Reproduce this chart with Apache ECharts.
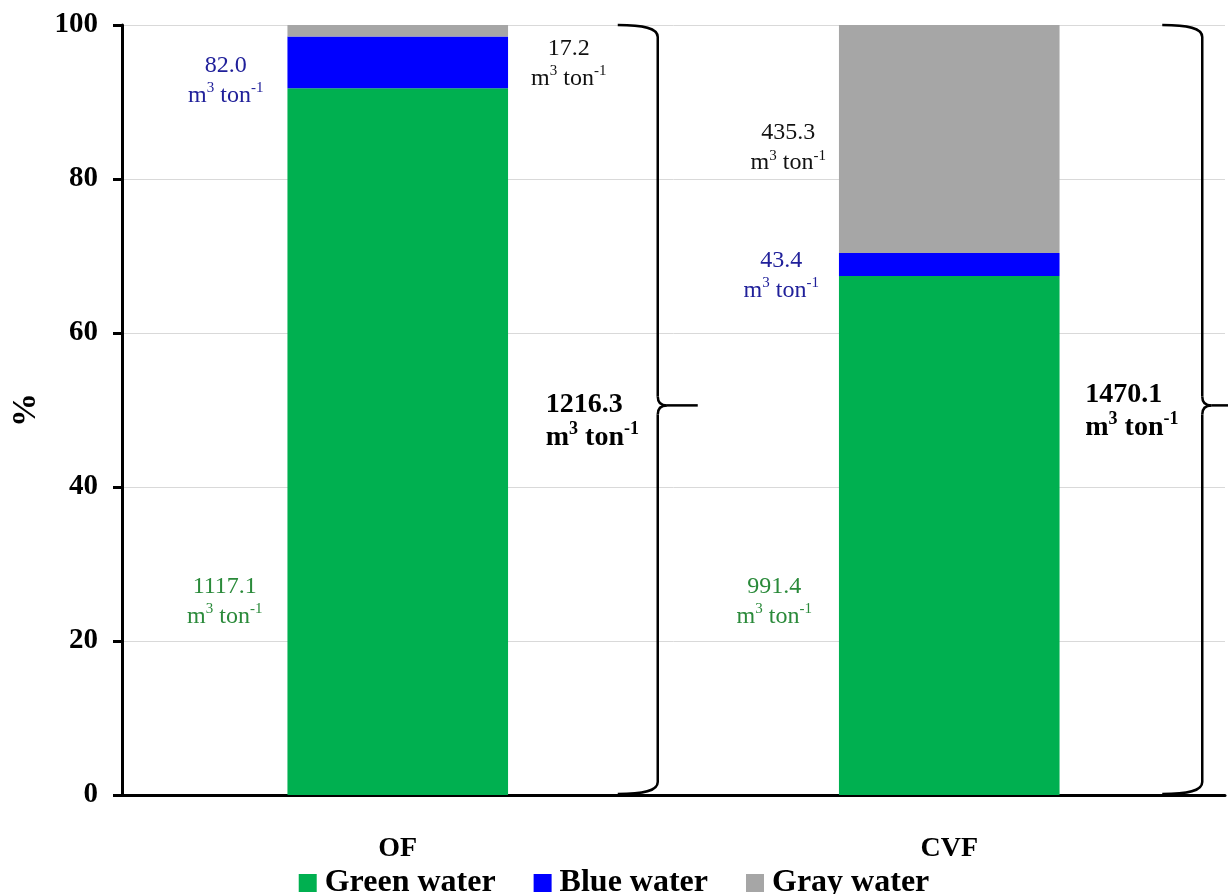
<!DOCTYPE html>
<html>
<head>
<meta charset="utf-8">
<script src="https://cdn.jsdelivr.net/npm/echarts@6/dist/echarts.min.js"></script>
<style>
html,body{margin:0;padding:0;background:#fff;}
#chart{width:1228px;height:894px;}
</style>
</head>
<body>
<div id="chart"></div>
<script>
// ---- data ----
const categories = ['OF', 'CVF'];
const greenPct = [91.8, 67.4];
const bluePct = [6.7, 3.0];
const grayPct = [1.5, 29.6];
const greenVol = ['1117.1', '991.4'];
const blueVol = ['82.0', '43.4'];
const grayVol = ['17.2', '435.3'];
const totalVol = ['1216.3', '1470.1'];
const yTicks = [0, 20, 40, 60, 80, 100];
const seriesNames = ['Green water', 'Blue water', 'Gray water'];

const FONT = '"Liberation Serif", "Times New Roman", serif';
const C_GREEN = '#00B050', C_BLUE = '#0000FF', C_GRAY = '#A6A6A6';
const T_GREEN = '#2A8A3A', T_BLUE = '#20209A', T_BLACK = '#111111';

const chart = echarts.init(document.getElementById('chart'));

const option = {
  animation: false,
  backgroundColor: '#ffffff',
  grid: { left: 122, right: 3, top: 25, bottom: 99, containLabel: false, outerBoundsMode: 'none' },
  legend: {
    left: 'center', top: 862,
    icon: 'rect', itemWidth: 18, itemHeight: 18, itemGap: 38,
    data: seriesNames,
    textStyle: { fontFamily: FONT, fontSize: 32, fontWeight: 'bold', color: '#000', padding: [0, 0, 0, 3] }
  },
  xAxis: {
    type: 'category', data: categories,
    axisLine: { lineStyle: { color: '#000', width: 3 } },
    axisTick: { show: false },
    axisLabel: { margin: 40, fontFamily: FONT, fontSize: 28, fontWeight: 'bold', color: '#000' }
  },
  yAxis: {
    type: 'value', min: 0, max: 100, interval: 20,
    name: '%', nameLocation: 'middle', nameGap: 76, nameRotate: 90,
    nameTextStyle: { fontFamily: FONT, fontSize: 34, fontWeight: 'bold', color: '#000' },
    axisLine: { show: true, lineStyle: { color: '#000', width: 3 } },
    axisTick: { show: true, length: 9, lineStyle: { color: '#000', width: 3 } },
    axisLabel: {
      margin: 24, fontFamily: FONT, fontSize: 29, fontWeight: 'bold', color: '#000',
      formatter: v => yTicks.includes(v) ? String(v) : ''
    },
    splitLine: { show: true, lineStyle: { color: '#d9d9d9', width: 1 } }
  },
  series: [
    { name: seriesNames[0], type: 'bar', stack: 't', barWidth: '40%', data: greenPct, itemStyle: { color: C_GREEN } },
    { name: seriesNames[1], type: 'bar', stack: 't', data: bluePct, itemStyle: { color: C_BLUE } },
    { name: seriesNames[2], type: 'bar', stack: 't', data: grayPct, itemStyle: { color: C_GRAY } }
  ]
};
chart.setOption(option);

function px(cat, y) { return chart.convertToPixel({ gridIndex: 0 }, [cat, y]); }

function unitRich(color, size, bold) {
  const w = bold ? 'bold' : 'normal';
  return {
    n: { fontFamily: FONT, fontSize: size, fontWeight: w, fill: color, lineHeight: bold ? 33 : 30 },
    s: { fontFamily: FONT, fontSize: Math.round(size * 0.64), fontWeight: w, fill: color, lineHeight: 20, verticalAlign: 'top' }
  };
}
function labelText(val) { return '{n|' + val + '}\n{n|m}{s|3}{n| ton}{s|-1}'; }

// label anchors (annotation placement)
const labels = [
  { cat: 0, y: 25.1, dx: -173, val: greenVol[0], color: T_GREEN },
  { cat: 0, y: 92.8, dx: -172, val: blueVol[0], color: T_BLUE },
  { cat: 0, y: 95.0, dx: 171, val: grayVol[0], color: T_BLACK },
  { cat: 1, y: 25.1, dx: -175, val: greenVol[1], color: T_GREEN },
  { cat: 1, y: 67.4, dx: -168, val: blueVol[1], color: T_BLUE },
  { cat: 1, y: 84.0, dx: -161, val: grayVol[1], color: T_BLACK }
];
const totals = [
  { cat: 0, y: 48.6, dx: 148, val: totalVol[0] },
  { cat: 1, y: 49.9, dx: 136, val: totalVol[1] }
];
const braces = [
  { cat: 0, dx: 260, tipY: 50.6 },
  { cat: 1, dx: 253, tipY: 50.6 }
];

const graphics = [];
labels.forEach(l => {
  const p = px(l.cat, l.y);
  graphics.push({
    type: 'text', x: p[0] + l.dx, y: p[1], z: 10,
    style: { text: labelText(l.val), rich: unitRich(l.color, 24, false), align: 'center', verticalAlign: 'middle', fill: l.color, fontFamily: FONT, fontSize: 24 }
  });
});
totals.forEach(l => {
  const p = px(l.cat, l.y);
  graphics.push({
    type: 'text', x: p[0] + l.dx, y: p[1], z: 10,
    style: { text: labelText(l.val), rich: unitRich('#000', 28, true), align: 'left', verticalAlign: 'middle', fill: '#000', fontFamily: FONT, fontSize: 28, fontWeight: 'bold' }
  });
});
const bStyle = { stroke: '#000', lineWidth: 2.5, fill: null };
braces.forEach(b => {
  const top = px(b.cat, 100), bot = px(b.cat, 0), mid = px(b.cat, b.tipY);
  const xv = top[0] + b.dx, y0 = top[1], y1 = bot[1] - 1, ym = mid[1];
  graphics.push({ type: 'bezierCurve', z: 10, shape: { x1: xv - 40, y1: y0, x2: xv, y2: y0 + 12, cpx1: xv - 14, cpy1: y0, cpx2: xv, cpy2: y0 + 3 }, style: bStyle });
  graphics.push({ type: 'line', z: 10, shape: { x1: xv, y1: y0 + 12, x2: xv, y2: ym - 9 }, style: bStyle });
  graphics.push({ type: 'bezierCurve', z: 10, shape: { x1: xv, y1: ym - 9, x2: xv + 9, y2: ym, cpx1: xv, cpy1: ym }, style: bStyle });
  graphics.push({ type: 'bezierCurve', z: 10, shape: { x1: xv, y1: ym + 9, x2: xv + 9, y2: ym, cpx1: xv, cpy1: ym }, style: bStyle });
  graphics.push({ type: 'line', z: 10, shape: { x1: xv + 9, y1: ym, x2: xv + 40, y2: ym }, style: bStyle });
  graphics.push({ type: 'line', z: 10, shape: { x1: xv, y1: ym + 9, x2: xv, y2: y1 - 12 }, style: bStyle });
  graphics.push({ type: 'bezierCurve', z: 10, shape: { x1: xv, y1: y1 - 12, x2: xv - 40, y2: y1, cpx1: xv, cpy1: y1 - 3, cpx2: xv - 14, cpy2: y1 }, style: bStyle });
});
chart.setOption({ graphic: graphics });
</script>
</body>
</html>
